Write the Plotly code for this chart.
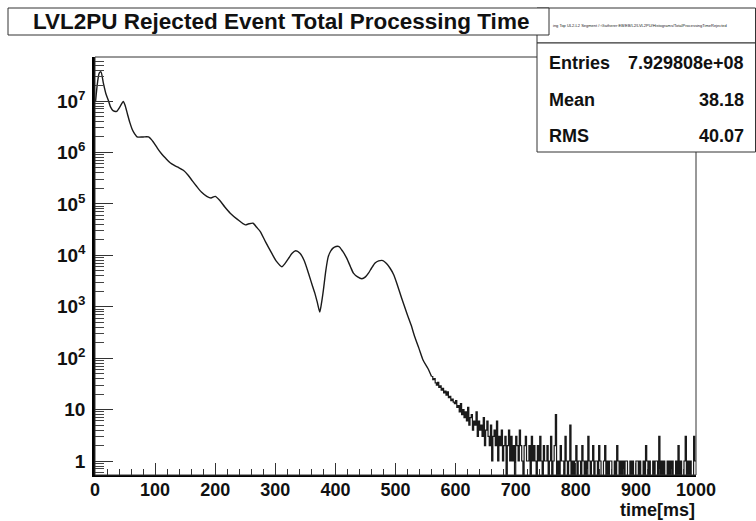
import plotly.graph_objects as go

# ---------------- data ----------------
# smooth part of the histogram: time [ms] and counts per bin
smooth_t = [1, 4, 7, 10, 14, 18, 22, 26, 30, 36, 42, 47, 50, 54, 58, 62, 66, 70, 80, 89,
            97, 104, 111, 118, 125, 132, 139, 147, 155, 162, 169, 177, 186, 193, 200, 208,
            216, 225, 237, 250, 256, 263, 269, 275, 284, 294, 302, 311, 316, 322, 328, 334,
            341, 348, 356, 362, 366, 370, 374, 377, 380, 384, 388, 392, 396, 401, 406, 412,
            419, 425, 430, 437, 444, 450, 455, 460, 466, 472, 479, 485, 491, 497, 502, 510,
            519, 526, 532, 539, 546, 554, 560]
smooth_counts = [1.0e7, 2.2e7, 3.5e7, 3.7e7, 2.2e7, 1.4e7, 1.05e7, 7.6e6, 6.5e6, 6.3e6, 7.9e6,
                 9.8e6, 8.3e6, 5.6e6, 3.8e6, 2.8e6, 2.3e6, 2.0e6, 2.0e6, 2.0e6,
                 1.6e6, 1.2e6, 9.3e5, 7.6e5, 6.3e5, 5.6e5, 5.1e5, 4.5e5, 3.6e5, 2.8e5, 2.2e5,
                 1.7e5, 1.4e5, 1.3e5, 1.4e5, 1.15e5,
                 8.7e4, 6.6e4, 5.0e4, 3.9e4, 4.1e4, 4.2e4, 3.5e4, 2.9e4, 1.8e4, 1.1e4, 7.6e3,
                 6.0e3, 6.9e3, 8.7e3, 1.1e4, 1.23e4,
                 1.1e4, 7.9e3, 4.2e3, 2.5e3, 1.8e3, 1.2e3, 7.9e2, 1.2e3, 2.1e3, 5.0e3, 9.3e3,
                 1.2e4, 1.38e4, 1.48e4, 1.48e4, 1.2e4,
                 8.7e3, 6.0e3, 4.5e3, 3.8e3, 3.5e3, 3.8e3, 4.5e3, 5.6e3, 7.1e3, 7.8e3, 7.9e3,
                 6.9e3, 5.6e3, 4.2e3, 2.9e3, 1.5e3,
                 7.4e2, 4.4e2, 2.6e2, 1.55e2, 91, 63, 44]

# noisy tail: 2 ms bins from 560 ms to 1000 ms
tail_start = 560
tail_width = 2
tail_counts = [
    44, 38, 40, 33, 30, 34, 27, 29, 24, 26, 21, 23, 19, 22, 17, 18, 15, 16, 14, 13,
    15, 11, 12, 9, 13, 8, 10, 7, 9, 6, 11, 5, 7, 8, 4, 6, 5, 9, 3, 6,
    4, 5, 3, 7, 2, 4, 6, 3, 2, 5, 1, 3, 4, 2, 6, 1, 3, 2, 4, 1,
    2, 3, 0, 2, 4, 1, 3, 1, 2, 0, 3, 2, 1, 4, 2, 1, 0, 2, 3, 1,
    1, 2, 0, 3, 1, 2, 1, 0, 2, 1, 3, 1, 0, 2, 1, 1, 2, 0, 1, 3,
    0, 1, 2, 8, 0, 1, 0, 2, 1, 1, 0, 3, 1, 0, 1, 5, 0, 1, 0, 1,
    2, 0, 1, 1, 0, 2, 1, 0, 1, 0, 3, 1, 0, 1, 2, 0, 1, 1, 0, 2,
    1, 0, 0, 1, 2, 0, 1, 0, 1, 1, 0, 0, 1, 0, 2, 1, 0, 1, 0, 1,
    0, 1, 1, 0, 0, 1, 0, 1, 0, 0, 1, 1, 0, 1, 0, 0, 1, 0, 2, 1,
    0, 1, 0, 0, 1, 0, 1, 1, 0, 3, 0, 1, 0, 1, 0, 0, 1, 0, 1, 0,
    1, 0, 0, 1, 0, 2, 0, 1, 0, 0, 1, 3, 0, 1, 0, 1, 0, 0, 3, 1,
]

x_tick_vals = [0, 100, 200, 300, 400, 500, 600, 700, 800, 900, 1000]
y_tick_vals = [1, 10, 1e2, 1e3, 1e4, 1e5, 1e6, 1e7]
y_tick_text = ["1", "10", "10<sup>2</sup>", "10<sup>3</sup>", "10<sup>4</sup>",
               "10<sup>5</sup>", "10<sup>6</sup>", "10<sup>7</sup>"]

title_text = "LVL2PU Rejected Event Total Processing Time"
path_text = ("ing Top UL2-L2 Segment /::Gatherer:EB/EB/L2/LVL2PU/Histograms/"
             "TotalProcessingTimeRejected")
stats_names = ["Entries", "Mean", "RMS"]
stats_values = ["7.929808e+08", "38.18", "40.07"]
x_title = "time[ms]"

# ---------------- figure ----------------
W, H = 756, 521
L, R, T, B = 95, 696, 57, 475
FONT = "Liberation Sans"
LINE = "#1a1a1a"


def px(xp):
    return (xp - L) / (R - L)


def py(yp):
    return (B - yp) / (B - T)


# zero-count bins drop below the axis bottom (as in ROOT log plots)
tail_x = [tail_start + tail_width * i for i in range(len(tail_counts) + 1)]
tail_y = [c if c > 0 else 0.05 for c in tail_counts] + [tail_counts[-1] if tail_counts[-1] > 0 else 0.05]

fig = go.Figure()
fig.add_trace(go.Scatter(x=smooth_t, y=smooth_counts, mode="lines",
                         line=dict(color=LINE, width=1.4, shape="spline", smoothing=0.6),
                         hoverinfo="skip", showlegend=False))
fig.add_trace(go.Scatter(x=tail_x, y=tail_y, mode="lines",
                         line=dict(color=LINE, width=1.2, shape="hv"),
                         hoverinfo="skip", showlegend=False))

minor_y = [k * 10 ** d for d in range(-1, 8) for k in range(2, 10)]

fig.update_xaxes(range=[0, 1000], showgrid=False, zeroline=False,
                 tickvals=x_tick_vals, ticks="inside", ticklen=12, tickwidth=1,
                 tickcolor="#333", showline=True, linecolor="black", linewidth=2,
                 mirror=False,
                 tickfont=dict(family=FONT, size=18, color="#111", weight="bold"),
                 ticklabelstandoff=-3,
                 minor=dict(dtick=20, ticks="inside", ticklen=6, tickcolor="#333",
                            tickwidth=1, showgrid=False))
fig.update_yaxes(type="log", range=[-0.272, 7.856], showgrid=False, zeroline=False,
                 tickvals=y_tick_vals, ticktext=y_tick_text, ticks="inside", ticklen=18,
                 tickwidth=1.2, tickcolor="#333", showline=True, linecolor="black",
                 linewidth=2.5, mirror=False,
                 tickfont=dict(family=FONT, size=19, color="#111", weight="bold"),
                 ticklabelstandoff=3,
                 minor=dict(tickvals=minor_y, ticks="inside", ticklen=9, tickcolor="#444",
                            tickwidth=1, showgrid=False))

shapes = []
# plot frame
shapes.append(dict(type="rect", xref="paper", yref="paper", x0=0, x1=1, y0=0, y1=1,
                   line=dict(color="#333", width=1), fillcolor="rgba(0,0,0,0)", layer="above"))
# path box (behind title box)
shapes.append(dict(type="rect", xref="paper", yref="paper", x0=px(537), x1=px(755.5),
                   y0=py(43), y1=py(8), line=dict(color="#333", width=1), fillcolor="white"))
# stats box
shapes.append(dict(type="rect", xref="paper", yref="paper", x0=px(537), x1=px(755.5),
                   y0=py(152), y1=py(43), line=dict(color="#333", width=1), fillcolor="white"))
# title box
shapes.append(dict(type="rect", xref="paper", yref="paper", x0=px(8), x1=px(549),
                   y0=py(35), y1=py(8), line=dict(color="#333", width=1), fillcolor="white"))

annotations = []
annotations.append(dict(text=title_text, xref="paper", yref="paper", x=px(281), y=py(21.5),
                        xanchor="center", yanchor="middle", showarrow=False,
                        font=dict(family=FONT, size=22.5, color="#111", weight="bold")))
annotations.append(dict(text=path_text, xref="paper", yref="paper", x=px(551), y=py(25),
                        xanchor="left", yanchor="middle", showarrow=False,
                        font=dict(family=FONT, size=4, color="#222")))
rows_y = [63, 100, 136]
for name, val, yy in zip(stats_names, stats_values, rows_y):
    annotations.append(dict(text=name, xref="paper", yref="paper", x=px(547), y=py(yy),
                            xanchor="left", yanchor="middle", showarrow=False,
                            font=dict(family=FONT, size=18, color="#111", weight="bold")))
    annotations.append(dict(text=val, xref="paper", yref="paper", x=px(746), y=py(yy),
                            xanchor="right", yanchor="middle", showarrow=False,
                            font=dict(family=FONT, size=18, color="#111", weight="bold")))
annotations.append(dict(text=x_title, xref="paper", yref="paper", x=px(697), y=py(510),
                        xanchor="right", yanchor="middle", showarrow=False,
                        font=dict(family=FONT, size=18, color="#111", weight="bold")))

fig.update_layout(width=W, height=H, margin=dict(l=L, r=W - R, t=T, b=H - B),
                  paper_bgcolor="white", plot_bgcolor="white",
                  shapes=shapes, annotations=annotations, showlegend=False)

fig.write_html("out.html")
